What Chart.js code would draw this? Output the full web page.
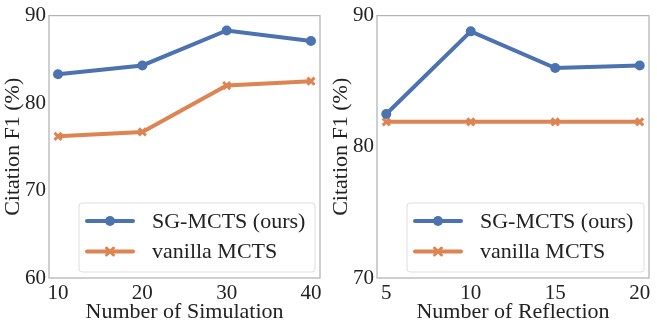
<!DOCTYPE html>
<html>
<head>
<meta charset="utf-8">
<script src="https://cdn.jsdelivr.net/npm/chart.js@4.4.1/dist/chart.umd.min.js"></script>
<style>
  body { margin: 0; background: #fff; }
  #wrap { width: 657px; height: 327px; display: flex; }
  canvas { display: block; }
</style>
</head>
<body>
<div id="wrap">
  <canvas id="simChart" width="328" height="327"></canvas>
  <canvas id="refChart" width="329" height="327"></canvas>
</div>
<script>
// left panel: number of simulation
const simSteps = [10, 20, 30, 40];
const simOurs = [83.3, 84.3, 88.3, 87.1];
const simVanilla = [76.2, 76.7, 82.0, 82.5];
const simYTicks = [60, 70, 80, 90];

// right panel: number of reflection
const refSteps = [5, 10, 15, 20];
const refOurs = [82.5, 88.8, 86.0, 86.2];
const refVanilla = [81.9, 81.9, 81.9, 81.9];
const refYTicks = [70, 80, 90];

const seriesNames = ['SG-MCTS (ours)', 'vanilla MCTS'];
const BLUE = '#4C72B0';
const ORANGE = '#DD8452';
const FONT = '"Liberation Serif", "Times New Roman", serif';

// grey box around the plot area (all four spines)
const framePlugin = {
    id: 'frame',
    beforeDatasetsDraw(chart) {
        const a = chart.chartArea;
        const ctx = chart.ctx;
        ctx.save();
        ctx.strokeStyle = '#b3b3b3';
        ctx.lineWidth = 1.25;
        ctx.strokeRect(a.left, a.top, a.right - a.left, a.bottom - a.top);
        ctx.restore();
    }
};

function drawMarker(ctx, style, color, x, y) {
    ctx.save();
    if (style === 'circle') {
        ctx.fillStyle = color;
        ctx.beginPath();
        ctx.arc(x, y, 5, 0, Math.PI * 2);
        ctx.fill();
    } else {
        ctx.strokeStyle = color;
        ctx.lineWidth = 3;
        const r = 3.5;
        ctx.beginPath();
        ctx.moveTo(x - r, y - r); ctx.lineTo(x + r, y + r);
        ctx.moveTo(x - r, y + r); ctx.lineTo(x + r, y - r);
        ctx.stroke();
    }
    ctx.restore();
}

// legend box in the lower right of the plot area
const insideLegend = {
    id: 'insideLegend',
    afterDatasetsDraw(chart) {
        const a = chart.chartArea;
        const ctx = chart.ctx;
        const x0 = a.left + 30, x1 = a.right - 5;
        const y1 = a.bottom - 6, y0 = y1 - 69;
        ctx.save();
        ctx.fillStyle = 'rgba(255,255,255,0.85)';
        ctx.strokeStyle = '#dedede';
        ctx.lineWidth = 1;
        ctx.beginPath();
        ctx.roundRect(x0, y0, x1 - x0, y1 - y0, 3);
        ctx.fill();
        ctx.stroke();
        chart.data.datasets.forEach((ds, i) => {
            const y = y0 + 18 + i * 30.5;
            ctx.strokeStyle = ds.borderColor;
            ctx.lineWidth = 4;
            ctx.lineCap = 'round';
            ctx.beginPath();
            ctx.moveTo(x0 + 8, y);
            ctx.lineTo(x0 + 54, y);
            ctx.stroke();
            drawMarker(ctx, ds.pointStyle, ds.borderColor, x0 + 31, y);
            ctx.fillStyle = '#222';
            ctx.font = '22px ' + FONT;
            ctx.textBaseline = 'middle';
            ctx.fillText(ds.label, x0 + 73, y + 1);
        });
        ctx.restore();
    }
};

function makeChart(id, steps, ours, vanilla, xTicks, xMin, xMax, yTicks, xTitle, rightPad) {
    const toPts = vals => steps.map((s, i) => ({ x: s, y: vals[i] }));
    return new Chart(document.getElementById(id), {
        type: 'line',
        data: {
            datasets: [{
                label: seriesNames[0],
                data: toPts(ours),
                borderColor: BLUE,
                backgroundColor: BLUE,
                borderWidth: 4,
                pointStyle: 'circle',
                pointRadius: 5,
                pointBorderWidth: 0
            }, {
                label: seriesNames[1],
                data: toPts(vanilla),
                borderColor: ORANGE,
                backgroundColor: ORANGE,
                borderWidth: 4,
                pointStyle: 'crossRot',
                pointRadius: 5,
                pointBorderWidth: 3
            }]
        },
        options: {
            responsive: false,
            animation: false,
            layout: { padding: { top: 9, right: rightPad, left: 0, bottom: 0 } },
            plugins: { legend: { display: false }, tooltip: { enabled: false } },
            scales: {
                x: {
                    type: 'linear',
                    min: xMin,
                    max: xMax,
                    grid: { display: false, drawTicks: false },
                    border: { display: false },
                    afterBuildTicks: s => { s.ticks = xTicks.map(v => ({ value: v })); },
                    afterFit: s => { s.height = 49; },
                    ticks: { color: '#222', padding: 3, maxRotation: 0, font: { family: FONT, size: 21 } },
                    title: { display: true, text: xTitle, color: '#222', padding: { top: 0, bottom: 2 }, font: { family: FONT, size: 22 } }
                },
                y: {
                    min: yTicks[0],
                    max: yTicks[yTicks.length - 1],
                    grid: { display: false, drawTicks: false },
                    border: { display: false },
                    afterBuildTicks: s => { s.ticks = yTicks.map(v => ({ value: v })); },
                    afterFit: s => { s.width = 49; },
                    ticks: { color: '#222', padding: 3, font: { family: FONT, size: 21 } },
                    title: { display: true, text: 'Citation F1 (%)', color: '#222', padding: 0, font: { family: FONT, size: 22 } }
                }
            }
        },
        plugins: [framePlugin, insideLegend]
    });
}

makeChart('simChart', simSteps, simOurs, simVanilla, simSteps, 8.93, 41.07, simYTicks, 'Number of Simulation', 8);
makeChart('refChart', refSteps, refOurs, refVanilla, refSteps, 4.45, 20.55, refYTicks, 'Number of Reflection', 6);
</script>
</body>
</html>
